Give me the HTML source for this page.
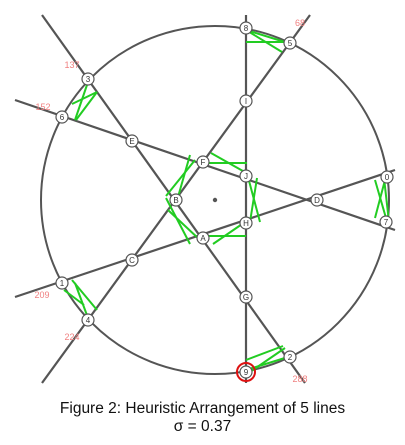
<!DOCTYPE html>
<html><head><meta charset="utf-8"><style>
body{margin:0;background:#fff;width:405px;height:445px;overflow:hidden;font-family:"Liberation Sans",Arial,sans-serif}
svg{position:absolute;left:0;top:0}
.cap{position:absolute;left:0;width:405px;text-align:center;font-size:15.5px;color:#111}
</style></head><body>
<svg id="chart" width="405" height="390"></svg>
<div class="cap" style="top:400px">Figure 2: Heuristic Arrangement of 5 lines</div>
<div class="cap" style="top:418px">σ = 0.37</div>
<script>
const lineEnds=[[246,15,246,383],[42,15,305,383],[15,100,395,230],[15,297,395,170],[42,383,310,15]];
const nodeNames=["8","5","3","6","0","7","1","4","9","2","I","E","F","J","B","D","H","A","C","G"];
const nodeX=[246,290,88,62,387,386,62,88,246,290,246,132,203,246,176,317,246,203,132,246];
const nodeY=[28,43,79,117,177,222,283,320,372,357,101,141,162,176,200,200,223,238,260,297];
const angleLabels=["68","137","152","209","224","288"];
const angleX=[300,72,43,42,72,300];
const angleY=[26,68,110,298,340,382];
const greens=[[246,30,282,52],[246,42,287,42],[246,30,288,43],
[88,82,75,120],[97,92,72,104],[76,120,97,92],
[384,178,389,222],[375,180,386,218],[375,218,385,180],
[72,280,97,310],[75,283,88,318],[64,290,84,305],
[246,370,288,357],[246,360,283,346],[250,372,285,348],
[211,153,250,175],[205,163,247,163],[257,178,250,222],[248,177,260,222],
[248,220,213,244],[246,236,205,236],[200,240,168,210],[190,244,166,198],
[166,196,195,160],[176,204,190,155]];
const svg=document.getElementById('chart');
const NS='http://www.w3.org/2000/svg';
function mk(t,a){const e=document.createElementNS(NS,t);for(const k in a)e.setAttribute(k,a[k]);svg.appendChild(e);return e;}
let c=mk('circle',{cx:215,cy:200,r:174,fill:'none',stroke:'#555','stroke-width':2});


lineEnds.forEach((l,i)=>{const e=mk('line',{x1:l[0],y1:l[1],x2:l[2],y2:l[3],stroke:'#555','stroke-width':2.2});

});
greens.forEach((g,i)=>{const e=mk('line',{x1:g[0],y1:g[1],x2:g[2],y2:g[3],stroke:'#22cc22','stroke-width':2});

});
let d=mk('circle',{cx:215,cy:200,r:2.2,fill:'#555'});


nodeNames.forEach((n,i)=>{const e=mk('circle',{cx:nodeX[i],cy:nodeY[i],r:6,fill:'#fff',stroke:'#555','stroke-width':1.2});


const t=mk('text',{x:nodeX[i],y:nodeY[i]+3,'font-size':8,'text-anchor':'middle',fill:'#333','font-family':'Liberation Sans, sans-serif'});
t.textContent=n;

});
let r=mk('circle',{cx:246,cy:372,r:9,fill:'none',stroke:'#dd1111','stroke-width':2});


angleLabels.forEach((a,i)=>{const t=mk('text',{x:angleX[i],y:angleY[i],'font-size':9,'text-anchor':'middle',fill:'#f08080','font-family':'Liberation Sans, sans-serif'});
t.textContent=a;

});
</script>
</body></html>
